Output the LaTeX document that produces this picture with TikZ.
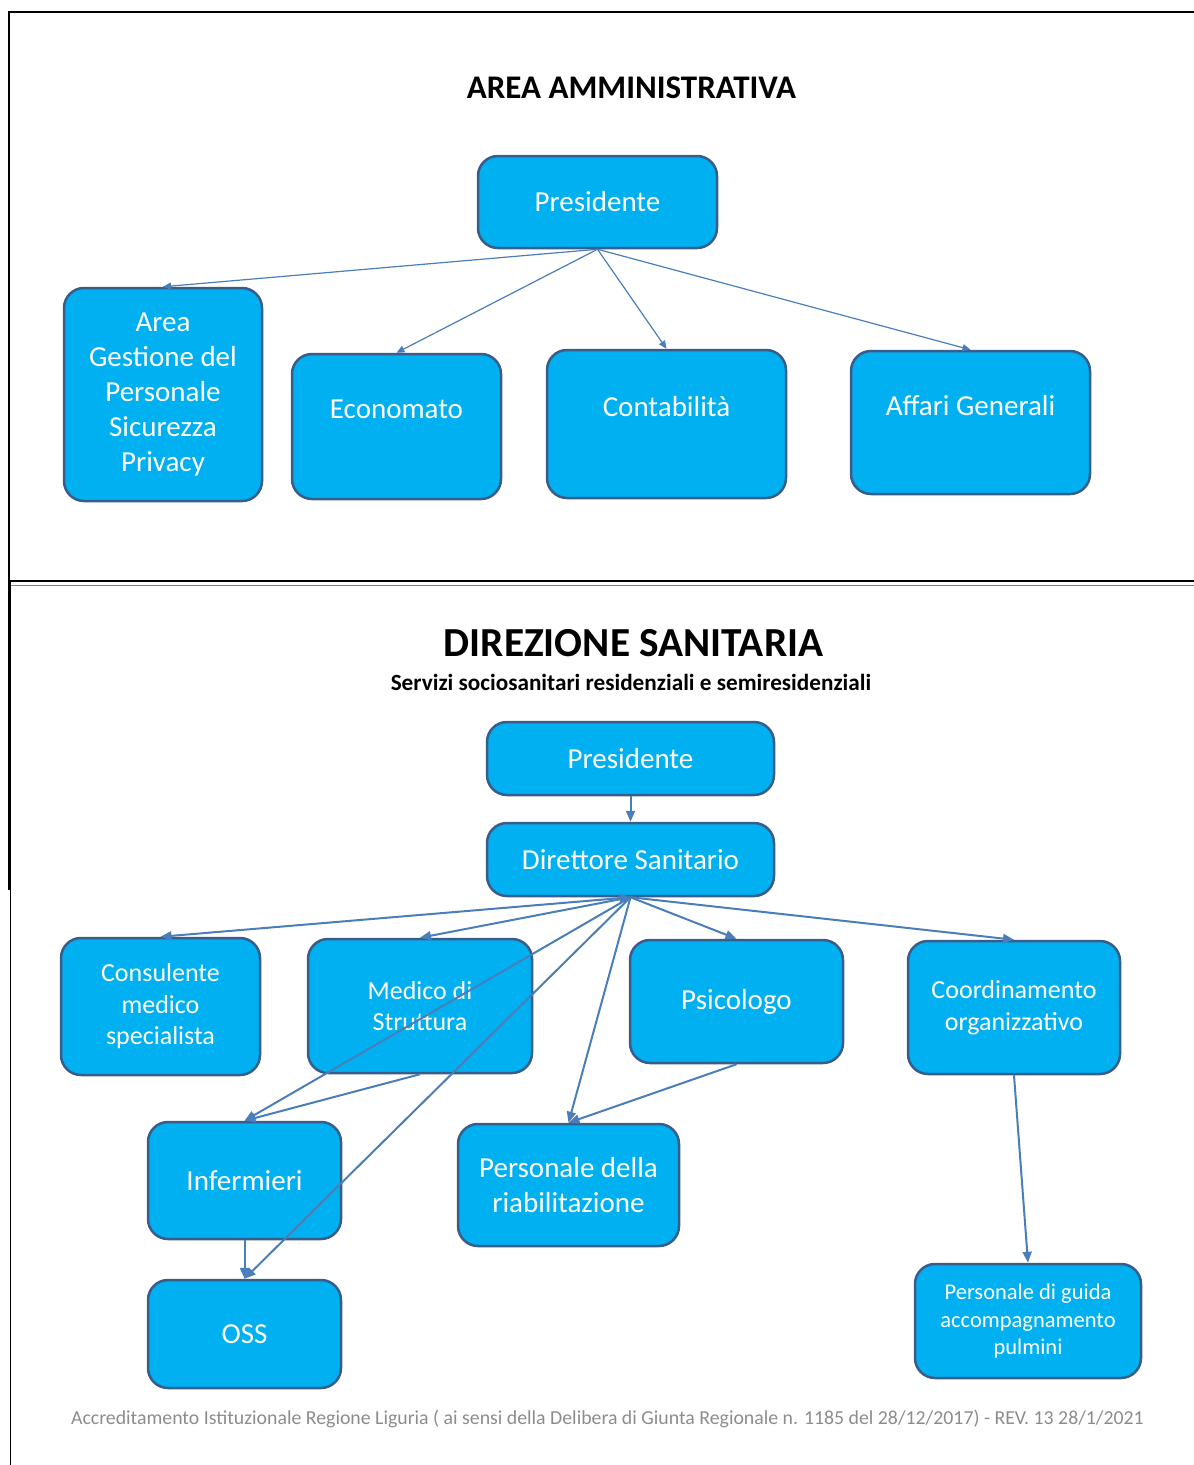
\documentclass[tikz,border=0pt]{standalone}
\usepackage{fontspec}
\setmainfont{Carlito}
\usetikzlibrary{arrows.meta}
\definecolor{boxfill}{HTML}{00B0F0}
\definecolor{boxline}{HTML}{385D8A}
\definecolor{conn}{HTML}{4A7EBB}
\definecolor{foot}{HTML}{8C8C8C}
\tikzset{
  orgbox/.style={draw=boxline, fill=boxfill, line width=2.5pt, rounded corners=20pt,
    inner sep=0pt, align=center, text=white, font=\fontsize{29}{35}\selectfont},
  midfont/.style={font=\fontsize{26}{31.5}\selectfont},
  smallfont/.style={font=\fontsize{22.5}{27.5}\selectfont},
  thinlink/.style={draw=conn, line width=1.2pt, -{Triangle[length=8pt,width=7pt]}},
  thicklink/.style={draw=conn, line width=2pt, -{Triangle[length=11pt,width=9pt]}},
  frameline/.style={draw=black, line width=1.5pt},
}
\begin{document}
\begin{tikzpicture}[x=1pt,y=-1pt]
\useasboundingbox (0,0) rectangle (1194,1465);
% frame
\draw[frameline, line width=2.2pt] (8,12) -- (1194,12);
\draw[frameline] (9,12) -- (9,890);
\draw[frameline] (9,581) -- (1194,581);
\draw[draw=gray, line width=0.8pt] (10,585) -- (1194,585);
\draw[frameline] (10.5,581) -- (10.5,1465);

% ---- top section
\node[font=\fontsize{33}{38}\selectfont\bfseries, inner sep=0pt] (t1) at (631.5,88) {AREA AMMINISTRATIVA};
\node[orgbox, minimum width=239pt, minimum height=92pt] (pres) at (597.5,202) {Presidente};
\node[orgbox, minimum width=198pt, minimum height=213pt] (area) at (163,394.5) {Area\\Gestione del\\Personale\\Sicurezza\\Privacy};
\node[orgbox, minimum width=209pt, minimum height=145pt] (econ) at (396.5,426.5) {Economato\\~};
\node[orgbox, minimum width=239pt, minimum height=148pt] (conta) at (666.5,424) {Contabilità\\~};
\node[orgbox, minimum width=239pt, minimum height=143pt] (aff) at (970.5,422.5) {Affari Generali\\~};

\draw[thinlink] (pres.south) -- (area.north);
\draw[thinlink] (pres.south) -- (econ.north);
\draw[thinlink] (pres.south) -- (conta.north);
\draw[thinlink] (pres.south) -- (aff.north);

% ---- bottom section
\node[font=\fontsize{41.3}{46}\selectfont\bfseries, inner sep=0pt] (t2) at (633.5,643) {DIREZIONE SANITARIA};
\node[font=\fontsize{23.2}{27}\selectfont\bfseries, inner sep=0pt] (t3) at (631,682) {Servizi sociosanitari residenziali e semiresidenziali};

\node[orgbox, minimum width=287pt, minimum height=73pt] (pres2) at (630.5,758.5) {Presidente};
\node[orgbox, minimum width=287pt, minimum height=73pt] (dir) at (630.5,859.5) {Direttore Sanitario};
\node[orgbox, midfont, minimum width=199pt, minimum height=137pt] (cons) at (160.5,1006.5) {Consulente\\medico\\specialista};
\node[orgbox, midfont, minimum width=224pt, minimum height=134pt] (med) at (420,1006) {Medico di\\Struttura};
\node[orgbox, minimum width=213pt, minimum height=123pt] (psi) at (736.5,1001.5) {Psicologo};
\node[orgbox, midfont, minimum width=212pt, minimum height=133pt] (coord) at (1014,1007.5) {Coordinamento\\organizzativo};
\node[orgbox, minimum width=193pt, minimum height=117pt] (inf) at (244.5,1180.5) {Infermieri};
\node[orgbox, minimum width=221pt, minimum height=122pt] (riab) at (568.5,1185) {Personale della\\riabilitazione};
\node[orgbox, minimum width=193pt, minimum height=108pt] (oss) at (244.5,1334) {OSS};
\node[orgbox, smallfont, minimum width=226pt, minimum height=114pt] (guida) at (1028,1321) {Personale di guida\\accompagnamento\\pulmini};

\draw[thicklink] (pres2.south) -- (dir.north);
\draw[thicklink, {Triangle[length=11pt,width=9pt]}-{Triangle[length=11pt,width=9pt]}] (dir.south) -- (cons.north);
\draw[thicklink] (dir.south) -- (med.north);
\draw[thicklink] (dir.south) -- (psi.north);
\draw[thicklink] (dir.south) -- (coord.north);
\draw[thicklink] (dir.south) -- (inf.north);
\draw[thicklink] (dir.south) -- (oss.north);
\draw[thicklink] (dir.south) -- (riab.north);
\draw[thicklink] (med.south) -- (inf.north);
\draw[thicklink] (psi.south) -- (riab.north);
\draw[thicklink] (coord.south) -- (guida.north);
\draw[thicklink] (inf.south) -- (oss.north);

\node[text=foot, font=\fontsize{19.8}{23}\selectfont, inner sep=0pt] (footer) at (607.5,1419) {Accreditamento Istituzionale Regione Liguria ( ai sensi della Delibera di Giunta Regionale n. 1185 del 28/12/2017) - REV. 13 28/1/2021};
\end{tikzpicture}
\end{document}
